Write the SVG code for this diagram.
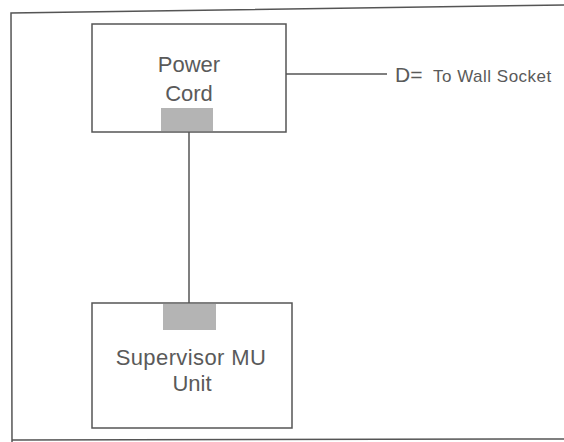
<svg xmlns="http://www.w3.org/2000/svg" width="564" height="442" viewBox="0 0 564 442">
<style>
.box{fill:#fff;stroke:#555;stroke-width:1.5}
.pad{fill:#b4b4b4}
.line{stroke:#555;stroke-width:1.5;fill:none}
.t{font-family:"Liberation Sans",Arial,sans-serif;fill:#5a5a5a;text-anchor:middle}
</style>
<rect width="564" height="442" fill="#fff"/>
<polyline class="line" points="565,5 11,13 12,442"/>
<line class="line" x1="12" y1="440" x2="565" y2="439"/>
<g id="connectors">
<line class="line" x1="189" y1="130" x2="189" y2="303"/>
<line class="line" x1="286" y1="74" x2="387" y2="74"/>
</g>
<g id="power-cord">
<rect class="box" x="92" y="24" width="194" height="108"/>
<rect class="pad" x="161" y="108" width="52" height="23"/>
<text class="t" x="189" y="72" font-size="22">Power</text>
<text class="t" x="189" y="101" font-size="22">Cord</text>
</g>
<g id="supervisor">
<rect class="box" x="92" y="303" width="200" height="125"/>
<rect class="pad" x="163" y="304" width="53" height="26"/>
<text class="t" x="191" y="365" font-size="22" letter-spacing="0.4">Supervisor MU</text>
<text class="t" x="192" y="391" font-size="22">Unit</text>
</g>
<g id="wall-label">
<text class="t" x="395" y="82" font-size="21" style="text-anchor:start">D=</text>
<text class="t" x="433" y="82" font-size="17" letter-spacing="0.5" style="text-anchor:start">To Wall Socket</text>
</g>
</svg>
